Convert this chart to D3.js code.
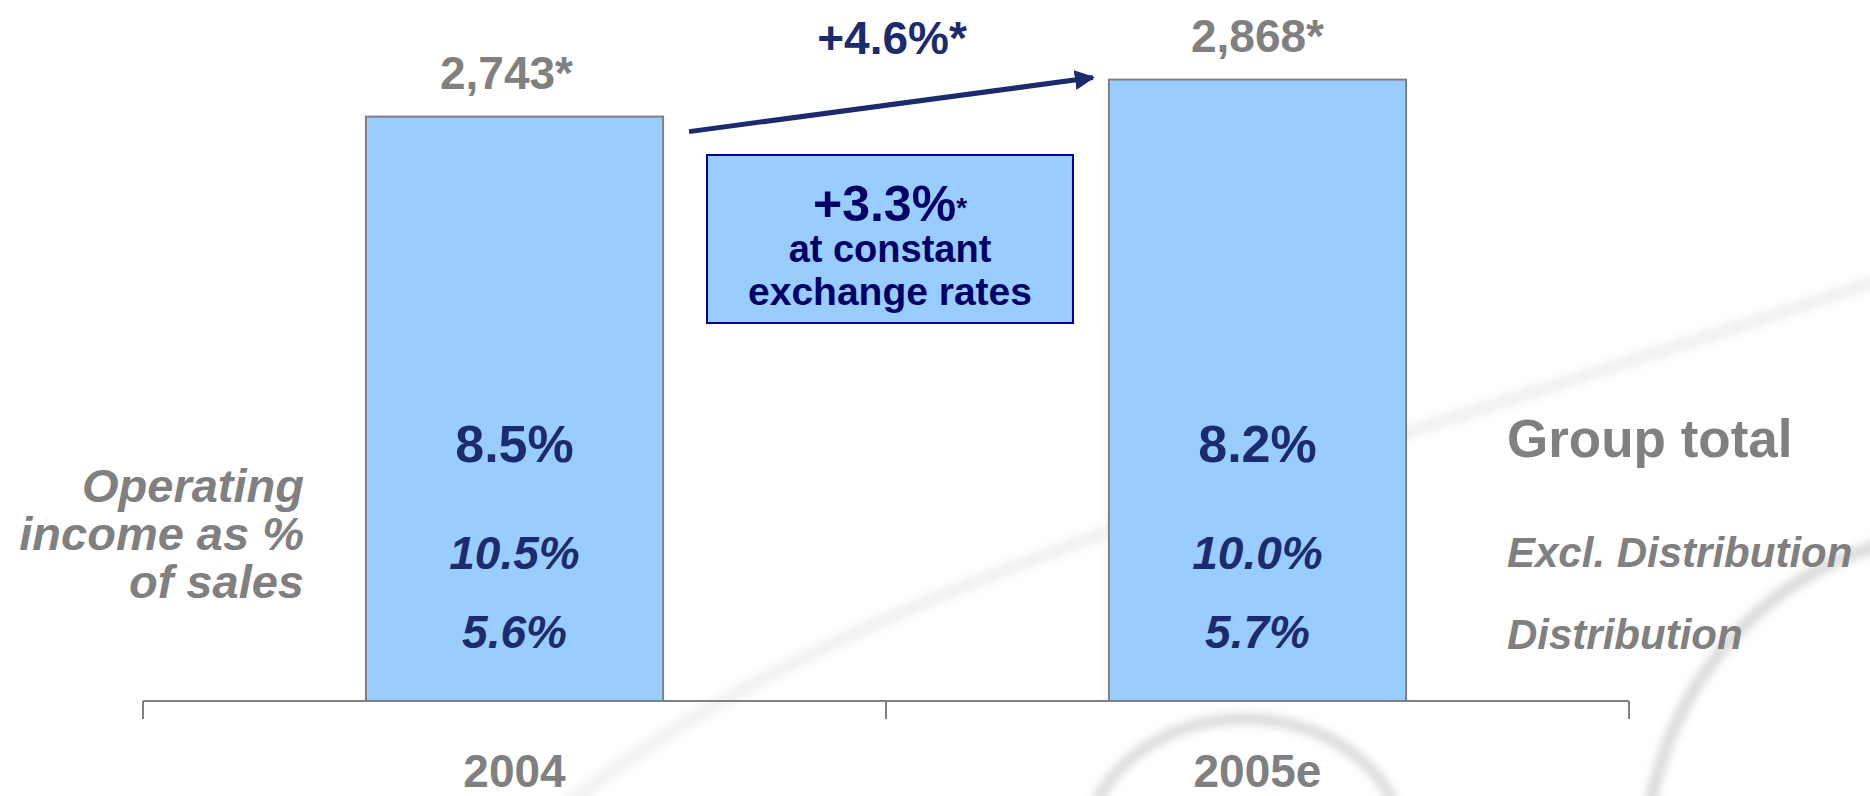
<!DOCTYPE html>
<html>
<head>
<meta charset="utf-8">
<script src="https://cdn.jsdelivr.net/npm/d3@7"></script>
<style>
  html, body { margin: 0; padding: 0; background: #fff; }
  svg { display: block; font-family: 'Liberation Sans', Arial, sans-serif; font-weight: bold; }
</style>
</head>
<body>
<div id="chart"></div>
<script>
// Chart data
const years = ['2004', '2005e']
const sales = [2743, 2868]
const salesLabels = ['2,743*', '2,868*']
const groupTotal = ['8.5%', '8.2%']
const exclDistribution = ['10.5%', '10.0%']
const distribution = ['5.6%', '5.7%']
const rowNames = ['Group total', 'Excl. Distribution', 'Distribution']
const growthLabel = '+4.6%'
const constantLabel = ['+3.3%', 'at constant', 'exchange rates']
const sideLabel = ['Operating', 'income as %', 'of sales']

const width = 1870
const height = 796
const gray = '#808080'
const navy = '#1c2a6e'

const svg = d3.select('#chart')
  .append('svg')
  .attr('width', width)
  .attr('height', height)

// faint background swooshes
const defs = svg.append('defs')
defs.append('filter').attr('id', 'blur')
  .append('feGaussianBlur').attr('stdDeviation', 5)

const bg = svg.append('g').attr('filter', 'url(#blur)').attr('fill', 'none')
bg.append('path')
  .attr('d', 'M 560 810 C 850 580, 1250 490, 1880 280')
  .attr('stroke', '#efefef').attr('stroke-width', 12)
bg.append('path')
  .attr('d', 'M 1095 805 C 1150 690, 1340 690, 1395 805')
  .attr('stroke', '#d6d6d6').attr('stroke-width', 10)
bg.append('path')
  .attr('d', 'M 1650 805 C 1675 680, 1760 580, 1880 545')
  .attr('stroke', '#d6d6d6').attr('stroke-width', 11)

// Scales
const x = d3.scaleBand()
  .domain(years)
  .range([143, 1629])
  .paddingInner(0.6)
  .paddingOuter(0.3)

const y = d3.scaleLinear()
  .domain([770, 2870])
  .range([701, 79])

// Bars
svg.append('g').selectAll('rect')
  .data(years)
  .enter().append('rect')
  .attr('x', d => x(d))
  .attr('y', (d, i) => y(sales[i]))
  .attr('width', x.bandwidth())
  .attr('height', (d, i) => y.range()[0] - y(sales[i]))
  .attr('fill', '#99ccff')
  .attr('stroke', gray)
  .attr('stroke-width', 2)

// Axis line with ticks between categories
const axis = svg.append('g').attr('stroke', gray).attr('stroke-width', 2)
axis.append('line')
  .attr('x1', x.range()[0]).attr('x2', x.range()[1])
  .attr('y1', 701).attr('y2', 701)
axis.selectAll('.tick')
  .data(d3.range(years.length + 1))
  .enter().append('line')
  .attr('x1', i => x.range()[0] + i * x.step())
  .attr('x2', i => x.range()[0] + i * x.step())
  .attr('y1', 701).attr('y2', 719)

const cx = d => x(d) + x.bandwidth() / 2

// Category labels
svg.append('g').selectAll('text')
  .data(years)
  .enter().append('text')
  .attr('x', cx).attr('y', 787)
  .attr('text-anchor', 'middle')
  .attr('font-size', 46)
  .attr('fill', gray)
  .text(d => d)

// Sales labels above bars
svg.append('g').selectAll('text')
  .data(years)
  .enter().append('text')
  .attr('x', (d, i) => cx(d) - (i === 0 ? 8 : 0))
  .attr('y', (d, i) => y(sales[i]) - 28)
  .attr('text-anchor', 'middle')
  .attr('font-size', 46)
  .attr('fill', gray)
  .text((d, i) => salesLabels[i])

// Percentage rows inside bars
const rows = [
  { vals: groupTotal, y: 462, size: 52, italic: false },
  { vals: exclDistribution, y: 569, size: 46, italic: true },
  { vals: distribution, y: 648, size: 46, italic: true }
]
rows.forEach(r => {
  svg.append('g').selectAll('text')
    .data(years)
    .enter().append('text')
    .attr('x', cx).attr('y', r.y)
    .attr('text-anchor', 'middle')
    .attr('font-size', r.size)
    .attr('font-style', r.italic ? 'italic' : 'normal')
    .attr('fill', navy)
    .text((d, i) => r.vals[i])
})

// Row names on the right
const rowLabelX = 1507
svg.append('text').attr('x', rowLabelX).attr('y', 457)
  .attr('font-size', 53).attr('fill', gray).text(rowNames[0])
svg.append('text').attr('x', rowLabelX).attr('y', 567)
  .attr('font-size', 42).attr('font-style', 'italic').attr('fill', gray).text(rowNames[1])
svg.append('text').attr('x', rowLabelX).attr('y', 649)
  .attr('font-size', 42).attr('font-style', 'italic').attr('fill', gray).text(rowNames[2])

// Side label
svg.append('text')
  .attr('text-anchor', 'end')
  .attr('font-size', 47)
  .attr('font-style', 'italic')
  .attr('fill', gray)
  .selectAll('tspan')
  .data(sideLabel)
  .enter().append('tspan')
  .attr('x', 304)
  .attr('y', (d, i) => 502 + i * 48)
  .text(d => d)

// Growth arrow
defs.append('marker')
  .attr('id', 'head')
  .attr('viewBox', '0 0 10 10')
  .attr('refX', 9).attr('refY', 5)
  .attr('markerWidth', 4).attr('markerHeight', 4)
  .attr('orient', 'auto')
  .append('path').attr('d', 'M0,0 L10,5 L0,10 z').attr('fill', navy)

const x0 = x(years[0]) + x.bandwidth() + 26
const x1 = x(years[1]) - 16
svg.append('line')
  .attr('x1', x0).attr('y1', y(sales[0]) + 15)
  .attr('x2', x1).attr('y2', y(sales[1]) - 2)
  .attr('stroke', navy)
  .attr('stroke-width', 5)
  .attr('marker-end', 'url(#head)')

const midX = (x0 + x1) / 2 + 1
const growth = svg.append('text')
  .attr('x', midX).attr('y', 54)
  .attr('text-anchor', 'middle')
  .attr('font-size', 46)
  .attr('fill', navy)
growth.append('tspan').text(growthLabel)
growth.append('tspan').text('*')

// Constant exchange rate box
svg.append('rect')
  .attr('x', 707).attr('y', 155)
  .attr('width', 366).attr('height', 168)
  .attr('fill', '#99ccff')
  .attr('stroke', '#000099')
  .attr('stroke-width', 2)

const boxCx = 707 + 366 / 2
const t1 = svg.append('text')
  .attr('x', boxCx).attr('y', 221)
  .attr('text-anchor', 'middle')
  .attr('font-size', 50)
  .attr('fill', '#000066')
t1.append('tspan').text(constantLabel[0])
t1.append('tspan').attr('font-size', 28).attr('dy', -4).text('*')

svg.append('text')
  .attr('x', boxCx).attr('y', 262)
  .attr('text-anchor', 'middle')
  .attr('font-size', 38)
  .attr('fill', '#000066')
  .text(constantLabel[1])
svg.append('text')
  .attr('x', boxCx).attr('y', 305)
  .attr('text-anchor', 'middle')
  .attr('font-size', 39)
  .attr('fill', '#000066')
  .text(constantLabel[2])
</script>
</body>
</html>
